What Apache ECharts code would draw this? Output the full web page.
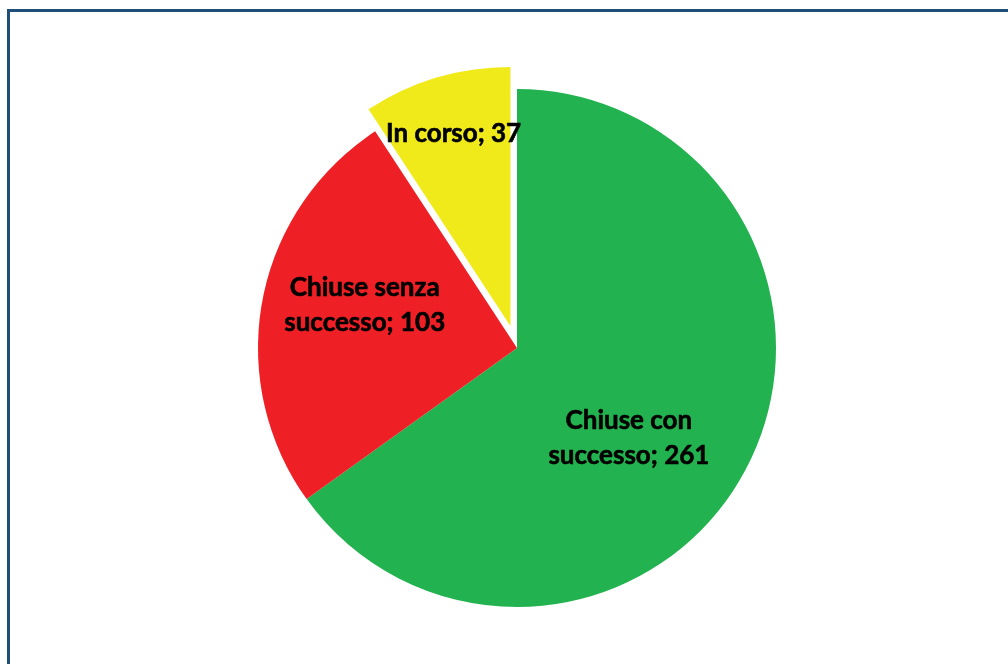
<!DOCTYPE html>
<html>
<head>
<meta charset="utf-8">
<script src="https://cdn.jsdelivr.net/npm/echarts@6/dist/echarts.min.js"></script>
<style>
  html, body { margin: 0; padding: 0; background: #ffffff; }
  #chart { width: 1008px; height: 664px; }
</style>
</head>
<body>
<div id="chart"></div>
<script>
// Stato delle pratiche
const categories = ['Chiuse con successo', 'Chiuse senza successo', 'In corso'];
const values = [261, 103, 37];
const colors = ['#22B24F', '#EE1F25', '#F1EA1A'];
const exploded = [false, false, true];
// label line breaks and nudges from the default inside position
const labelText = ['Chiuse con\nsuccesso; 261', 'Chiuse senza\nsuccesso; 103', 'In corso; 37'];
const labelShift = [[-6, 30], [-22, -19], [-19, -65]];

const chart = echarts.init(document.getElementById('chart'), null, { renderer: 'canvas' });

const data = categories.map((name, i) => ({
  name: name,
  value: values[i],
  selected: exploded[i],
  itemStyle: { color: colors[i] },
  label: { formatter: labelText[i] }
}));

chart.setOption({
  animation: false,
  backgroundColor: '#ffffff',
  graphic: [{
    type: 'rect',
    shape: { x: 8.5, y: 10.5, width: 1200, height: 900 },
    style: { fill: 'none', stroke: '#1F4E79', lineWidth: 3 },
    silent: true
  }],
  series: [{
    type: 'pie',
    center: [517, 348],
    radius: 259,
    startAngle: 90,
    clockwise: true,
    selectedMode: 'single',
    selectedOffset: 23,
    avoidLabelOverlap: false,
    itemStyle: { borderWidth: 0 },
    emphasis: { disabled: true },
    label: {
      show: true,
      position: 'inside',
      color: '#000000',
      fontFamily: 'Lato',
      fontWeight: 'bold',
      fontSize: 26,
      lineHeight: 35,
      align: 'center',
      textBorderColor: '#000000',
      textBorderWidth: 0.6
    },
    labelLine: { show: false },
    labelLayout: function (params) {
      const s = labelShift[params.dataIndex];
      return { dx: s[0], dy: s[1] };
    },
    data: data
  }]
});
</script>
</body>
</html>
